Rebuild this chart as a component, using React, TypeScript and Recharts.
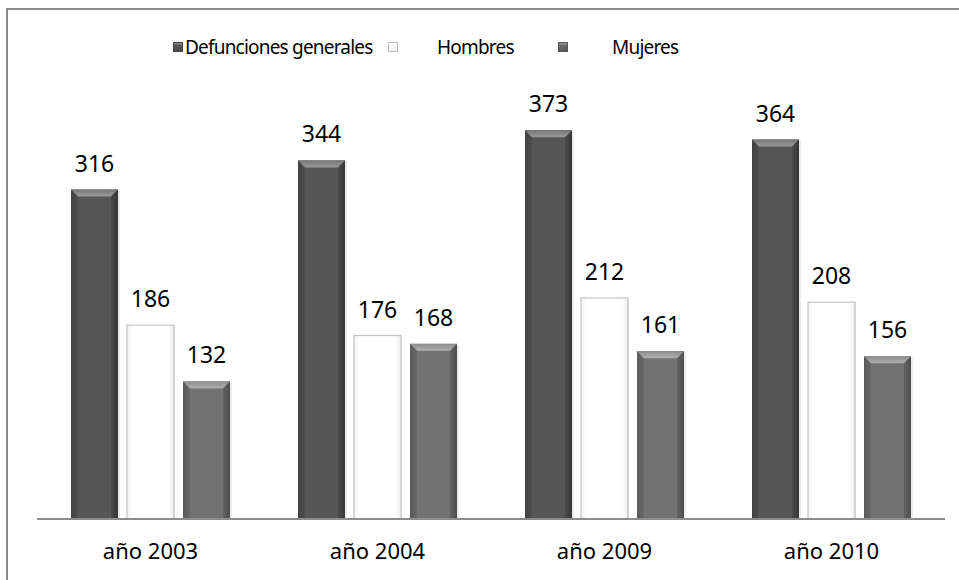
import React from 'react';
import { BarChart, Bar, XAxis, YAxis, LabelList } from 'recharts';

const categories = ['año 2003', 'año 2004', 'año 2009', 'año 2010'];
const generales = [316, 344, 373, 364];
const hombres = [186, 176, 212, 208];
const mujeres = [132, 168, 161, 156];
const seriesNames = ['Defunciones generales', 'Hombres', 'Mujeres'];

const data = categories.map((c, i) => ({
  name: c,
  generales: generales[i],
  hombres: hombres[i],
  mujeres: mujeres[i],
}));

const FONT = '"Noto Sans", "Open Sans", sans-serif';

const makeShape = (kind: 'dark' | 'white' | 'mid') => (props: any) => {
  const { x, y, width, height } = props;
  if (height <= 0) return null;
  const b = Math.min(7, height / 2);
  if (kind === 'white') {
    return (
      <g>
        <rect x={x + 1} y={y} width={width} height={height} fill="#e6e6e6" opacity={0.6} />
        <rect x={x} y={y} width={width} height={height} fill="url(#gWhite)" stroke="#c4c4c4" strokeWidth={1.2} />
      </g>
    );
  }
  const body = kind === 'dark' ? 'url(#gDark)' : 'url(#gMid)';
  const bevel = kind === 'dark' ? 'url(#bDark)' : 'url(#bMid)';
  return (
    <g>
      <rect x={x + 2} y={y + 1} width={width} height={height - 1} fill="#000" opacity={0.08} />
      <rect x={x} y={y} width={width} height={height} fill={body} />
      <polygon
        points={`${x},${y} ${x + width},${y} ${x + width - b},${y + b} ${x + b},${y + b}`}
        fill={bevel}
      />
      <polygon points={`${x},${y} ${x + b},${y + b} ${x + b},${y + height} ${x},${y + height}`} fill="#000" opacity={0.08} />
      <polygon points={`${x + width},${y} ${x + width - b},${y + b} ${x + width - b},${y + height} ${x + width},${y + height}`} fill="#000" opacity={0.12} />
    </g>
  );
};

const legendSwatch = (kind: string) => {
  if (kind === 'white')
    return { background: 'linear-gradient(#fff,#f0f0f0)', border: '1px solid #bdbdbd' };
  if (kind === 'dark')
    return { background: 'linear-gradient(#8a8a8a 0%, #555 35%, #4a4a4a 100%)', border: '1px solid #444' };
  return { background: 'linear-gradient(#999 0%, #666 35%, #5a5a5a 100%)', border: '1px solid #555' };
};

const legendLayout = [
  { sq: 173, tx: 185, kind: 'dark' },
  { sq: 388, tx: 437, kind: 'white' },
  { sq: 558, tx: 612, kind: 'mid' },
];

export default function App() {
  return (
    <div style={{ position: 'absolute', left: 0, top: 0, width: 959, height: 580, overflow: 'hidden', background: '#fff' }}>
      <div
        style={{
          position: 'absolute',
          left: 6,
          top: 8,
          width: 1200,
          height: 1000,
          borderLeft: '2px solid #8c8c8c',
          borderTop: '2px solid #8c8c8c',
        }}
      />
      <div style={{ position: 'absolute', left: 0, top: 0 }}>
        <BarChart
          width={959}
          height={580}
          data={data}
          margin={{ top: 102, right: 14, left: 37, bottom: 16 }}
          barCategoryGap={34}
          barGap={9}
        >
          <defs>
            <linearGradient id="gDark" x1="0" y1="0" x2="1" y2="0">
              <stop offset="0%" stopColor="#474747" />
              <stop offset="15%" stopColor="#565656" />
              <stop offset="85%" stopColor="#565656" />
              <stop offset="100%" stopColor="#3e3e3e" />
            </linearGradient>
            <linearGradient id="gMid" x1="0" y1="0" x2="1" y2="0">
              <stop offset="0%" stopColor="#616161" />
              <stop offset="15%" stopColor="#727272" />
              <stop offset="85%" stopColor="#727272" />
              <stop offset="100%" stopColor="#585858" />
            </linearGradient>
            <linearGradient id="gWhite" x1="0" y1="0" x2="1" y2="0">
              <stop offset="0%" stopColor="#f2f2f2" />
              <stop offset="12%" stopColor="#ffffff" />
              <stop offset="88%" stopColor="#ffffff" />
              <stop offset="100%" stopColor="#ededed" />
            </linearGradient>
            <linearGradient id="bDark" x1="0" y1="0" x2="0" y2="1">
              <stop offset="0%" stopColor="#767676" />
              <stop offset="100%" stopColor="#9a9a9a" />
            </linearGradient>
            <linearGradient id="bMid" x1="0" y1="0" x2="0" y2="1">
              <stop offset="0%" stopColor="#8c8c8c" />
              <stop offset="100%" stopColor="#b0b0b0" />
            </linearGradient>
          </defs>
          <XAxis
            dataKey="name"
            axisLine={{ stroke: '#8c8c8c', strokeWidth: 2 }}
            tickLine={false}
            tickSize={0}
            tickMargin={24}
            height={45}
            interval={0}
            tick={{ fill: '#000', fontSize: 22, fontFamily: FONT }}
          />
          <YAxis hide domain={[0, 400]} />
          <Bar dataKey="generales" name={seriesNames[0]} isAnimationActive={false} shape={makeShape('dark')}>
            <LabelList dataKey="generales" position="top" offset={18} fill="#000" fontSize={23} fontFamily={FONT} />
          </Bar>
          <Bar dataKey="hombres" name={seriesNames[1]} isAnimationActive={false} shape={makeShape('white')}>
            <LabelList dataKey="hombres" position="top" offset={18} fill="#000" fontSize={23} fontFamily={FONT} />
          </Bar>
          <Bar dataKey="mujeres" name={seriesNames[2]} isAnimationActive={false} shape={makeShape('mid')}>
            <LabelList dataKey="mujeres" position="top" offset={18} fill="#000" fontSize={23} fontFamily={FONT} />
          </Bar>
        </BarChart>
      </div>
      {seriesNames.map((n, i) => (
        <React.Fragment key={n}>
          <div
            style={{
              position: 'absolute',
              left: legendLayout[i].sq,
              top: 42,
              width: 10,
              height: 10,
              boxSizing: 'border-box',
              ...legendSwatch(legendLayout[i].kind),
            }}
          />
          <div
            style={{
              position: 'absolute',
              left: legendLayout[i].tx,
              top: 34,
              height: 26,
              lineHeight: '26px',
              fontSize: 19,
              letterSpacing: -0.8,
              fontFamily: FONT,
              color: '#000',
              whiteSpace: 'nowrap',
            }}
          >
            {n}
          </div>
        </React.Fragment>
      ))}
    </div>
  );
}
